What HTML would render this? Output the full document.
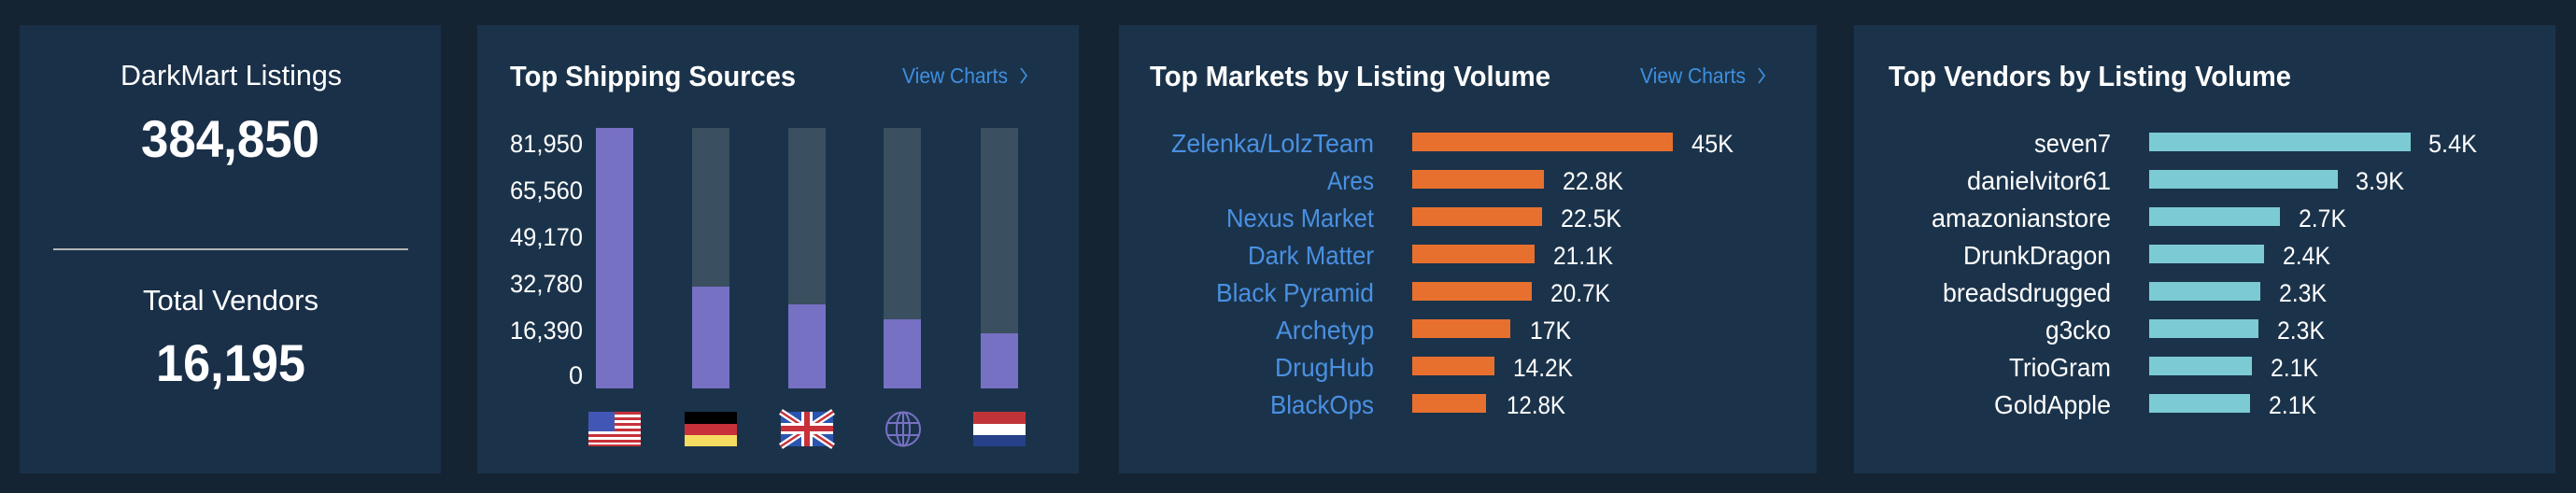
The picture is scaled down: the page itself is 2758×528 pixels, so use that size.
<!DOCTYPE html>
<html><head><meta charset="utf-8"><style>
html,body{margin:0;padding:0;width:2758px;height:528px;overflow:hidden;background:#152433;}
svg{display:block}
text{font-family:"Liberation Sans",sans-serif;}
</style></head><body>
<svg width="2758" height="528" viewBox="0 0 2758 528" xmlns="http://www.w3.org/2000/svg">
<rect width="2758" height="528" fill="#152433"/>
<rect x="21" y="27" width="451" height="480" fill="#1a3049"/>
<rect x="511" y="27" width="644" height="480" fill="#1b334a"/>
<rect x="1198" y="27" width="747" height="480" fill="#1b334a"/>
<rect x="1985" y="27" width="751" height="480" fill="#1b334a"/>

<!-- panel 1 -->
<g fill="#fff">
<text x="129" y="91" font-size="31" textLength="237" lengthAdjust="spacingAndGlyphs">DarkMart Listings</text>
<text x="151" y="168" font-size="56" font-weight="bold" textLength="191" lengthAdjust="spacingAndGlyphs">384,850</text>
<rect x="57" y="266" width="380" height="2" fill="#b5b5b5"/>
<text x="153" y="332" font-size="31" textLength="188" lengthAdjust="spacingAndGlyphs">Total Vendors</text>
<text x="167" y="408" font-size="56" font-weight="bold" textLength="160" lengthAdjust="spacingAndGlyphs">16,195</text>
</g>

<!-- panel 2 -->
<text x="546" y="92" font-size="31" font-weight="bold" fill="#fff" textLength="306" lengthAdjust="spacingAndGlyphs">Top Shipping Sources</text>
<text x="966" y="89" font-size="23" fill="#3f8fe0" textLength="113" lengthAdjust="spacingAndGlyphs">View Charts</text>
<path d="M1093 73 L1099 81 L1093 89" stroke="#3f8fe0" stroke-width="1.6" fill="none"/>
<g fill="#fff" font-size="27" text-anchor="end">
<text x="624" y="163" textLength="78" lengthAdjust="spacingAndGlyphs">81,950</text>
<text x="624" y="213" textLength="78" lengthAdjust="spacingAndGlyphs">65,560</text>
<text x="624" y="263" textLength="78" lengthAdjust="spacingAndGlyphs">49,170</text>
<text x="624" y="313" textLength="78" lengthAdjust="spacingAndGlyphs">32,780</text>
<text x="624" y="363" textLength="78" lengthAdjust="spacingAndGlyphs">16,390</text>
<text x="624" y="411">0</text>
</g>
<g fill="#3a4f5f">
<rect x="741" y="137" width="40" height="279"/>
<rect x="844" y="137" width="40" height="279"/>
<rect x="946" y="137" width="40" height="279"/>
<rect x="1050" y="137" width="40" height="279"/>
</g>
<g fill="#7771c4">
<rect x="638" y="137" width="40" height="279"/>
<rect x="741" y="307" width="40" height="109"/>
<rect x="844" y="326" width="40" height="90"/>
<rect x="946" y="342" width="40" height="74"/>
<rect x="1050" y="357" width="40" height="59"/>
</g>
<g>
<rect x="630" y="441" width="56" height="37" fill="#fff"/>
<g fill="#c8313a">
<rect x="630" y="441" width="56" height="3"/><rect x="630" y="447" width="56" height="3"/>
<rect x="630" y="453" width="56" height="3"/><rect x="630" y="459" width="56" height="3"/>
<rect x="630" y="465" width="56" height="3"/><rect x="630" y="471" width="56" height="3"/>
<rect x="630" y="476" width="56" height="2"/>
</g>
<rect x="630" y="441" width="28" height="21" fill="#4257b5"/>
</g>
<rect x="733" y="441" width="56" height="13" fill="#000"/>
<rect x="733" y="454" width="56" height="12" fill="#c8313a"/>
<rect x="733" y="466" width="56" height="12" fill="#f7dc62"/>
<g>
<rect x="836" y="441" width="56" height="37" fill="#2a55b0"/>
<path d="M836 441 L892 478 M892 441 L836 478" stroke="#fff" stroke-width="7"/>
<path d="M836 441 L892 478 M892 441 L836 478" stroke="#c8313a" stroke-width="2.5"/>
<rect x="858" y="441" width="12" height="37" fill="#fff"/>
<rect x="836" y="453" width="56" height="12" fill="#fff"/>
<rect x="861" y="441" width="6" height="37" fill="#c8313a"/>
<rect x="836" y="456" width="56" height="6" fill="#c8313a"/>
</g>
<g stroke="#7771c4" stroke-width="2" fill="none">
<circle cx="967" cy="459.5" r="18"/>
<ellipse cx="967" cy="459.5" rx="7" ry="18"/>
<line x1="967" y1="441.5" x2="967" y2="477.5"/>
<line x1="950" y1="453" x2="984" y2="453"/>
<line x1="950" y1="466" x2="984" y2="466"/>
</g>
<rect x="1042" y="441" width="56" height="13" fill="#c03438"/>
<rect x="1042" y="454" width="56" height="12" fill="#fff"/>
<rect x="1042" y="466" width="56" height="12" fill="#26418a"/>

<!-- panel 3 -->
<text x="1231" y="92" font-size="31" font-weight="bold" fill="#fff" textLength="429" lengthAdjust="spacingAndGlyphs">Top Markets by Listing Volume</text>
<text x="1756" y="89" font-size="23" fill="#3f8fe0" textLength="113" lengthAdjust="spacingAndGlyphs">View Charts</text>
<path d="M1883 73 L1889 81 L1883 89" stroke="#3f8fe0" stroke-width="1.6" fill="none"/>
<g font-size="28" fill="#4a90e2" text-anchor="end">
<text x="1471" y="163" textLength="217" lengthAdjust="spacingAndGlyphs">Zelenka/LolzTeam</text>
<text x="1471" y="203" textLength="50" lengthAdjust="spacingAndGlyphs">Ares</text>
<text x="1471" y="243" textLength="158" lengthAdjust="spacingAndGlyphs">Nexus Market</text>
<text x="1471" y="283" textLength="135" lengthAdjust="spacingAndGlyphs">Dark Matter</text>
<text x="1471" y="323" textLength="169" lengthAdjust="spacingAndGlyphs">Black Pyramid</text>
<text x="1471" y="363" textLength="105" lengthAdjust="spacingAndGlyphs">Archetyp</text>
<text x="1471" y="403" textLength="106" lengthAdjust="spacingAndGlyphs">DrugHub</text>
<text x="1471" y="443" textLength="111" lengthAdjust="spacingAndGlyphs">BlackOps</text>
</g>
<g fill="#e8702f">
<rect x="1512" y="142" width="279" height="20"/>
<rect x="1512" y="182" width="141" height="20"/>
<rect x="1512" y="222" width="139" height="20"/>
<rect x="1512" y="262" width="131" height="20"/>
<rect x="1512" y="302" width="128" height="20"/>
<rect x="1512" y="342" width="105" height="20"/>
<rect x="1512" y="382" width="88" height="20"/>
<rect x="1512" y="422" width="79" height="20"/>
</g>
<g font-size="27" fill="#fff">
<text x="1811" y="163" textLength="45" lengthAdjust="spacingAndGlyphs">45K</text>
<text x="1673" y="203" textLength="65" lengthAdjust="spacingAndGlyphs">22.8K</text>
<text x="1671" y="243" textLength="65" lengthAdjust="spacingAndGlyphs">22.5K</text>
<text x="1663" y="283" textLength="64" lengthAdjust="spacingAndGlyphs">21.1K</text>
<text x="1660" y="323" textLength="64" lengthAdjust="spacingAndGlyphs">20.7K</text>
<text x="1638" y="363" textLength="44" lengthAdjust="spacingAndGlyphs">17K</text>
<text x="1620" y="403" textLength="64" lengthAdjust="spacingAndGlyphs">14.2K</text>
<text x="1613" y="443" textLength="63" lengthAdjust="spacingAndGlyphs">12.8K</text>
</g>

<!-- panel 4 -->
<text x="2022" y="92" font-size="31" font-weight="bold" fill="#fff" textLength="431" lengthAdjust="spacingAndGlyphs">Top Vendors by Listing Volume</text>
<g font-size="28" fill="#fff" text-anchor="end">
<text x="2260" y="163" textLength="82" lengthAdjust="spacingAndGlyphs">seven7</text>
<text x="2260" y="203" textLength="154" lengthAdjust="spacingAndGlyphs">danielvitor61</text>
<text x="2260" y="243" textLength="192" lengthAdjust="spacingAndGlyphs">amazonianstore</text>
<text x="2260" y="283" textLength="158" lengthAdjust="spacingAndGlyphs">DrunkDragon</text>
<text x="2260" y="323" textLength="180" lengthAdjust="spacingAndGlyphs">breadsdrugged</text>
<text x="2260" y="363" textLength="70" lengthAdjust="spacingAndGlyphs">g3cko</text>
<text x="2260" y="403" textLength="109" lengthAdjust="spacingAndGlyphs">TrioGram</text>
<text x="2260" y="443" textLength="125" lengthAdjust="spacingAndGlyphs">GoldApple</text>
</g>
<g fill="#7ccbd4">
<rect x="2301" y="142" width="280" height="20"/>
<rect x="2301" y="182" width="202" height="20"/>
<rect x="2301" y="222" width="140" height="20"/>
<rect x="2301" y="262" width="123" height="20"/>
<rect x="2301" y="302" width="119" height="20"/>
<rect x="2301" y="342" width="117" height="20"/>
<rect x="2301" y="382" width="110" height="20"/>
<rect x="2301" y="422" width="108" height="20"/>
</g>
<g font-size="27" fill="#fff">
<text x="2600" y="163" textLength="52" lengthAdjust="spacingAndGlyphs">5.4K</text>
<text x="2522" y="203" textLength="52" lengthAdjust="spacingAndGlyphs">3.9K</text>
<text x="2461" y="243" textLength="51" lengthAdjust="spacingAndGlyphs">2.7K</text>
<text x="2444" y="283" textLength="51" lengthAdjust="spacingAndGlyphs">2.4K</text>
<text x="2440" y="323" textLength="51" lengthAdjust="spacingAndGlyphs">2.3K</text>
<text x="2438" y="363" textLength="51" lengthAdjust="spacingAndGlyphs">2.3K</text>
<text x="2431" y="403" textLength="51" lengthAdjust="spacingAndGlyphs">2.1K</text>
<text x="2429" y="443" textLength="51" lengthAdjust="spacingAndGlyphs">2.1K</text>
</g>
</svg>
</body></html>
